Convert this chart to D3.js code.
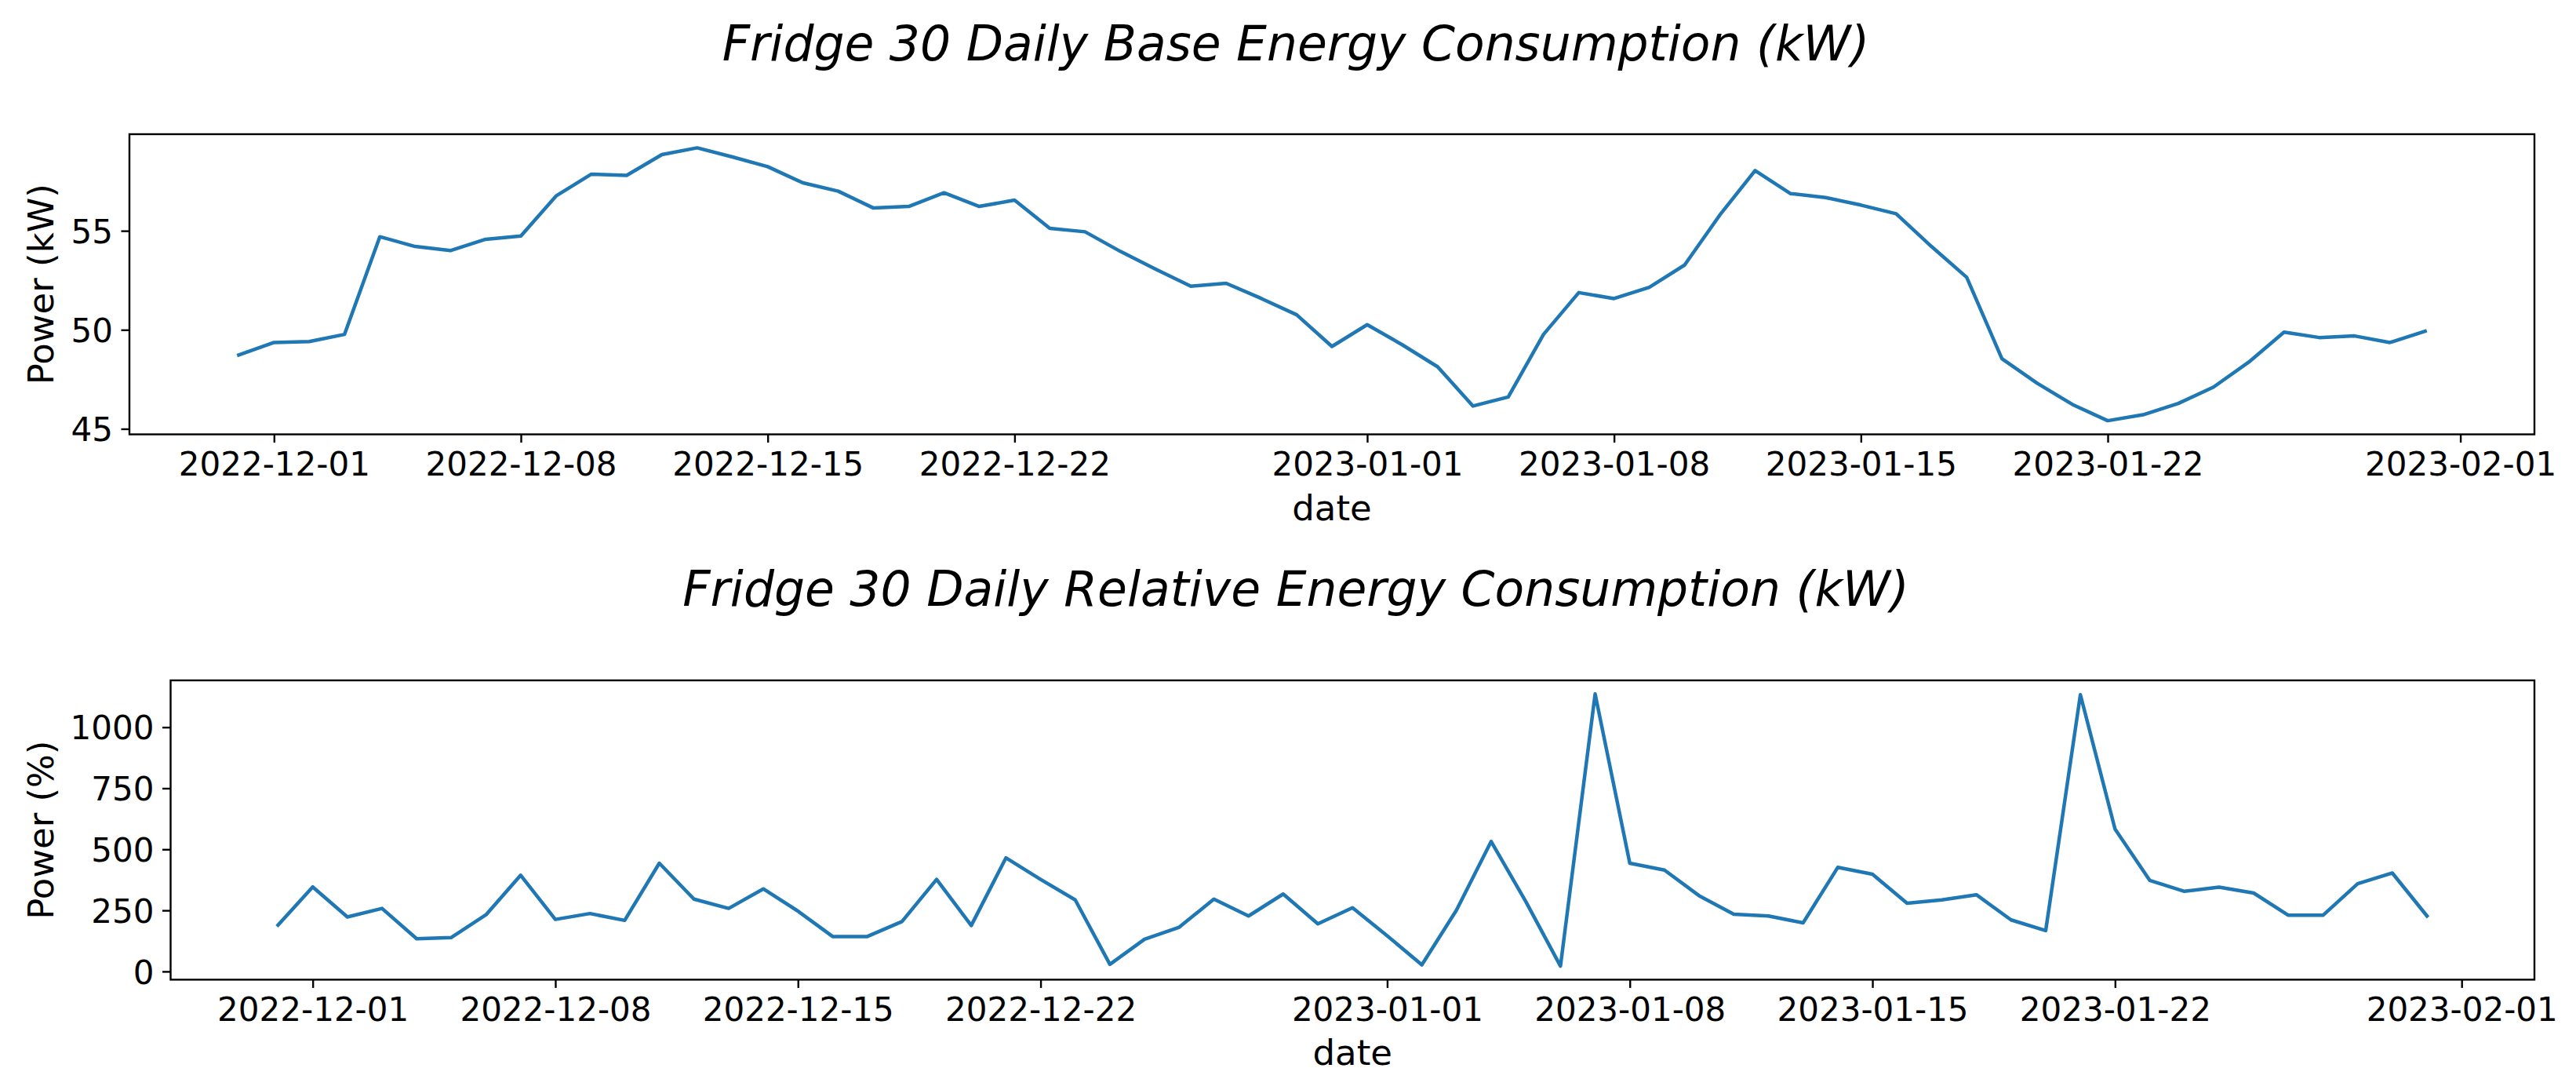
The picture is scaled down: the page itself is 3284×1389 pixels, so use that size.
<!DOCTYPE html>
<html><head><meta charset="utf-8">
<script src="https://cdn.jsdelivr.net/npm/d3@7"></script>
<style>
html,body{margin:0;padding:0;background:#fff;}
svg{display:block;}
text{font-family:"DejaVu Sans",sans-serif;fill:#000;}
</style>
</head><body>
<svg id="chart" width="3284" height="1389"></svg>
<script>
// ---------------- data ----------------
const startDate = "2022-11-30";
const dayCount = 63;
const baseValues = [
  48.73,49.36,49.41,49.77,54.70,54.21,54.00,54.57,54.74,56.76,
  57.86,57.80,58.85,59.19,58.73,58.24,57.42,57.00,56.15,56.23,
  56.92,56.23,56.55,55.12,54.95,53.96,53.06,52.20,52.35,51.58,
  50.76,49.16,50.26,49.24,48.13,46.15,46.61,49.77,51.88,51.58,
  52.15,53.27,55.80,58.04,56.88,56.68,56.30,55.86,54.21,52.65,
  48.54,47.30,46.23,45.41,45.71,46.28,47.11,48.37,49.88,49.61,
  49.69,49.36,49.93
];
const relValues = [
  190,346,223,258,134,139,232,394,213,237,
  209,443,296,258,338,247,143,143,204,377,
  188,465,377,293,29,132,181,296,227,317,
  195,261,146,27,251,532,286,22,1136,443,
  415,310,234,227,199,426,398,279,293,314,
  211,167,1133,583,373,328,345,321,230,230,
  359,403,227
];
const xTickLabels = ["2022-12-01","2022-12-08","2022-12-15","2022-12-22","2023-01-01","2023-01-08","2023-01-15","2023-01-22","2023-02-01"];
const baseYTicks = [45,50,55];
const relYTicks = [0,250,500,750,1000];
const titles = ["Fridge 30 Daily Base Energy Consumption (kW)","Fridge 30 Daily Relative Energy Consumption (kW)"];
const yLabels = ["Power (kW)","Power (%)"];
const xLabel = "date";

// ---------------- layout ----------------
const svg = d3.select("#chart");
const parse = d3.utcParse("%Y-%m-%d");
const fmt = d3.utcFormat("%Y-%m-%d");
const dates = d3.utcDay.range(parse(startDate), d3.utcDay.offset(parse(startDate), dayCount));

const panels = [
  {values: baseValues, yTicks: baseYTicks, title: titles[0], ylabel: yLabels[0],
   left: 165, right: 3231, top: 171, bottom: 553.5, titleY: 77},
  {values: relValues, yTicks: relYTicks, title: titles[1], ylabel: yLabels[1],
   left: 217.5, right: 3231, top: 867, bottom: 1248.4, titleY: 772}
];

const TICK = 10.5, PAD = 10.5;
const tickFont = 42, labelFont = 45, titleFont = 61.5;
const color = "#1f77b4";

panels.forEach(p => {
  const data = dates.map((d,i) => ({date: d, v: p.values[i]}));
  const t0 = +dates[0], t1 = +dates[dates.length-1];
  const tm = (t1 - t0) * 0.05;
  const x = d3.scaleUtc().domain([new Date(t0 - tm), new Date(t1 + tm)]).range([p.left, p.right]);
  const [vmin, vmax] = d3.extent(p.values);
  const vm = (vmax - vmin) * 0.05;
  const y = d3.scaleLinear().domain([vmin - vm, vmax + vm]).range([p.bottom, p.top]);

  const g = svg.append("g");

  // line
  g.append("path").datum(data)
    .attr("fill","none").attr("stroke",color).attr("stroke-width",4.5)
    .attr("stroke-linejoin","round").attr("stroke-linecap","square")
    .attr("d", d3.line().x(d => x(d.date)).y(d => y(d.v)));

  // x axis
  const xa = g.append("g").attr("transform",`translate(0,${p.bottom})`)
    .call(d3.axisBottom(x).tickValues(xTickLabels.map(parse)).tickFormat(fmt)
      .tickSize(TICK).tickPadding(PAD).tickSizeOuter(0));
  xa.select(".domain").remove();
  xa.selectAll(".tick line").attr("stroke","#000").attr("stroke-width",2.4);
  xa.selectAll(".tick text").attr("font-size",tickFont).attr("font-family","DejaVu Sans").attr("fill","#000").attr("dy","0.76em");

  // y axis
  const ya = g.append("g").attr("transform",`translate(${p.left},0)`)
    .call(d3.axisLeft(y).tickValues(p.yTicks).tickFormat(d3.format("d"))
      .tickSize(TICK).tickPadding(PAD).tickSizeOuter(0));
  ya.select(".domain").remove();
  ya.selectAll(".tick line").attr("stroke","#000").attr("stroke-width",2.4);
  ya.selectAll(".tick text").attr("font-size",tickFont).attr("font-family","DejaVu Sans").attr("fill","#000").attr("dy","0.36em");

  // frame
  g.append("rect").attr("x",p.left).attr("y",p.top)
    .attr("width",p.right-p.left).attr("height",p.bottom-p.top)
    .attr("fill","none").attr("stroke","#000").attr("stroke-width",2.4);

  // x label
  g.append("text").attr("x",(p.left+p.right)/2).attr("y",p.bottom+109)
    .attr("text-anchor","middle").attr("font-size",labelFont).text(xLabel);

  // y label
  g.append("text").attr("transform",`translate(68,${(p.top+p.bottom)/2}) rotate(-90)`)
    .attr("text-anchor","middle").attr("font-size",labelFont).text(p.ylabel);

  // title
  g.append("text").attr("x",1652).attr("y",p.titleY)
    .attr("text-anchor","middle").attr("font-size",titleFont).attr("font-style","italic")
    .text(p.title);
});
</script>
</body></html>
